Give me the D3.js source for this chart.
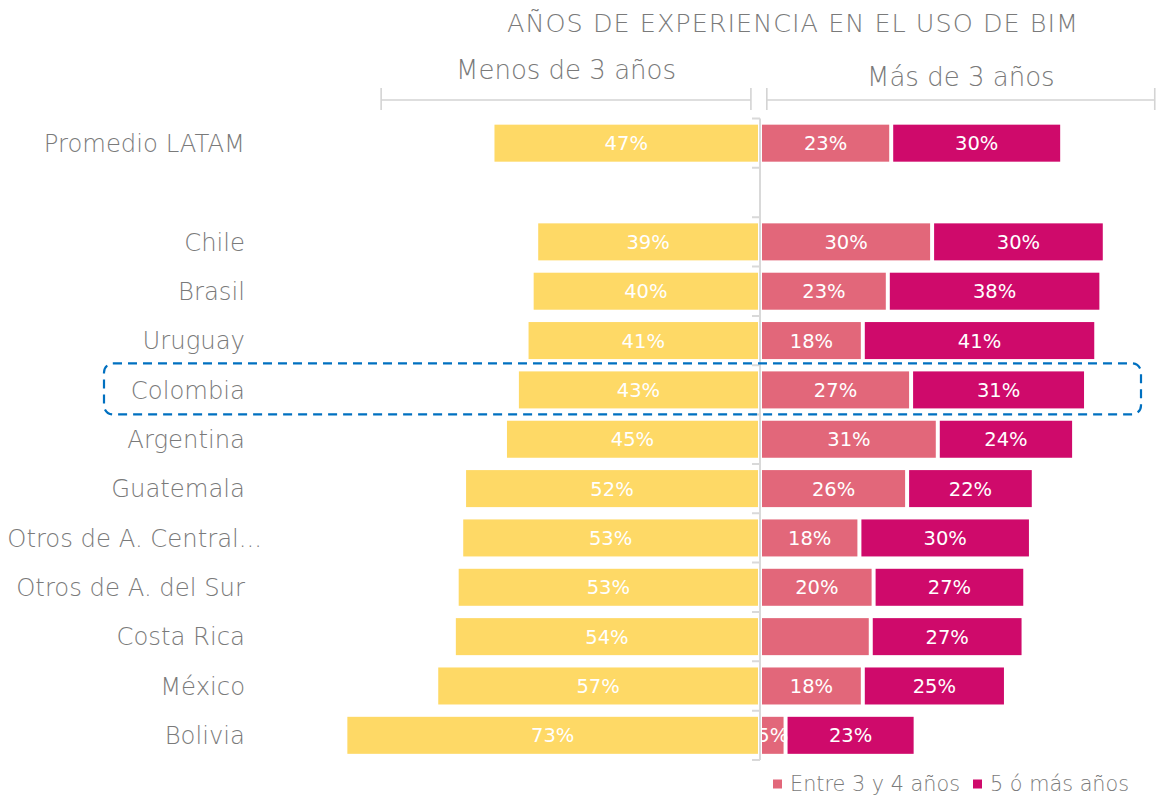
<!DOCTYPE html>
<html>
<head>
<meta charset="utf-8">
<script src="https://cdn.jsdelivr.net/npm/d3@7"></script>
<style>
  body { margin: 0; background: #fff; }
  svg text { font-family: "DejaVu Sans", "Open Sans", sans-serif; font-weight: 300; }
  svg text.val { font-weight: 400; }
</style>
</head>
<body>
<div id="chart"></div>
<script>
// data (bar lengths in %, labels are rounded)
const countries = ["Promedio LATAM", "", "Chile", "Brasil", "Uruguay", "Colombia", "Argentina",
    "Guatemala", "Otros de A. Central...", "Otros de A. del Sur", "Costa Rica", "México", "Bolivia"];
const menos3 = [47.1, null, 39.4, 40.2, 41.1, 42.8, 44.9, 52.1, 52.6, 53.4, 53.9, 57.0, 73.0];
const entre3y4 = [23.1, null, 30.3, 22.5, 18.1, 26.6, 31.3, 25.9, 17.5, 20.0, 19.5, 18.1, 4.5];
const cincoMas = [30.1, null, 30.4, 37.6, 41.1, 30.8, 24.0, 22.3, 30.2, 26.7, 26.9, 25.2, 22.9];
const hiddenLabels = ["Costa Rica"];   // pink segment label not shown there
const highlighted = "Colombia";
const seriesNames = ["Menos de 3 años", "Entre 3 y 4 años", "5 ó más años"];
const colors = ["#FED966", "#E2677A", "#CF0A6B"];

const width = 1160, height = 796;
const gray = "#7a7a7a";

const svg = d3.select("#chart").append("svg")
    .attr("width", width)
    .attr("height", height);

const x = d3.scaleLinear().domain([-100, 100]).range([760 - 568, 760 + 568]);
const y = d3.scaleBand().domain(d3.range(countries.length))
    .range([118.5, 760]).paddingInner(0.25).paddingOuter(0.125);

// title + group headers
svg.append("text")
    .attr("x", 793).attr("y", 32)
    .attr("text-anchor", "middle")
    .attr("font-size", 25.5)
    .attr("letter-spacing", 1)
    .attr("fill", gray)
    .text("AÑOS DE EXPERIENCIA EN EL USO DE BIM");

const headers = [
    {label: "Menos de 3 años", from: -66.7, to: -1.6, ty: 79},
    {label: "Más de 3 años", from: 1.2, to: 69.5, ty: 86}
];
const hdr = svg.append("g").selectAll("g").data(headers).join("g");
hdr.append("text")
    .attr("x", d => (x(d.from) + x(d.to)) / 2)
    .attr("y", d => d.ty)
    .attr("text-anchor", "middle")
    .attr("font-size", 26)
    .attr("fill", gray)
    .text(d => d.label);
hdr.append("path")
    .attr("d", d => `M${x(d.from)},88V110M${x(d.from)},100H${x(d.to)}M${x(d.to)},88V110`)
    .attr("fill", "none")
    .attr("stroke", "#d4d4d4")
    .attr("stroke-width", 1.6);

// rows
const rows = countries.map((c, i) => ({c, i, a: menos3[i], b: entre3y4[i], m: cincoMas[i]}))
    .filter(d => d.a != null);

const segs = [];
rows.forEach(d => {
    segs.push({i: d.i, c: d.c, x0: -d.a, x1: 0, v: d.a, k: 0});
    segs.push({i: d.i, c: d.c, x0: 0, x1: d.b, v: d.b, k: 1});
    segs.push({i: d.i, c: d.c, x0: d.b, x1: d.b + d.m, v: d.m, k: 2});
});

svg.append("g")
    .selectAll("rect")
    .data(segs)
    .join("rect")
    .attr("x", d => x(d.x0) + 2)
    .attr("y", d => y(d.i))
    .attr("width", d => Math.max(0, x(d.x1) - x(d.x0) - 4))
    .attr("height", y.bandwidth())
    .attr("fill", d => colors[d.k]);

svg.append("g")
    .selectAll("text")
    .data(segs.filter(d => !(d.k == 1 && hiddenLabels.includes(d.c))))
    .join("text")
    .attr("class", "val")
    .attr("x", d => (x(d.x0) + x(d.x1)) / 2)
    .attr("y", d => y(d.i) + y.bandwidth() / 2)
    .attr("dy", "0.36em")
    .attr("text-anchor", "middle")
    .attr("font-size", 19.5)
    .attr("fill", "#fff")
    .text(d => Math.round(d.v) + "%");

// category labels
svg.append("g")
    .selectAll("text")
    .data(rows)
    .join("text")
    .attr("x", d => d.c.endsWith("...") ? 262 : 245)
    .attr("y", d => y(d.i) + y.bandwidth() / 2)
    .attr("dy", "0.36em")
    .attr("text-anchor", "end")
    .attr("font-size", 24.3)
    .attr("fill", gray)
    .text(d => d.c);

// centre axis with ticks at row boundaries
const bounds = d3.range(countries.length + 1).map(k => y.range()[0] + k * y.step());
svg.append("path")
    .attr("d", `M760,${bounds[0]}V${bounds[bounds.length - 1]}` + bounds.map(b => `M752,${b}H760`).join(""))
    .attr("fill", "none")
    .attr("stroke", "#d9d9d9")
    .attr("stroke-width", 2);

// highlight box
const hi = countries.indexOf(highlighted);
svg.append("rect")
    .attr("x", 104).attr("y", y(hi) - 8)
    .attr("width", 1037).attr("height", y.bandwidth() + 14)
    .attr("rx", 9)
    .attr("fill", "none")
    .attr("stroke", "#0070C0")
    .attr("stroke-width", 2.2)
    .attr("stroke-dasharray", "9,6");

// legend
const legend = svg.append("g").selectAll("g")
    .data([{name: seriesNames[1], color: colors[1], x: 773}, {name: seriesNames[2], color: colors[2], x: 973}])
    .join("g")
    .attr("transform", d => `translate(${d.x},784)`);
legend.append("rect")
    .attr("x", 0).attr("y", -4.5).attr("width", 9).attr("height", 9)
    .attr("fill", d => d.color);
legend.append("text")
    .attr("x", 17).attr("dy", "0.34em")
    .attr("font-size", 20.8)
    .attr("fill", gray)
    .text(d => d.name);
</script>
</body>
</html>
